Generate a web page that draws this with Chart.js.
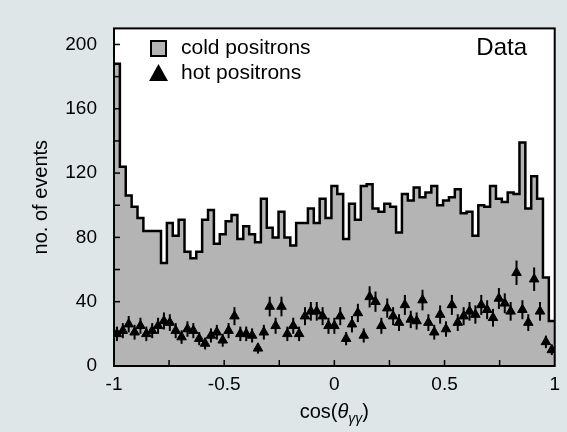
<!DOCTYPE html>
<html>
<head>
<meta charset="utf-8">
<script src="https://cdn.jsdelivr.net/npm/chart.js@4.4.1/dist/chart.umd.min.js"></script>
<style>
  html, body { margin: 0; padding: 0; background: #dee6e8; }
  #wrap { width: 567px; height: 432px; }
</style>
</head>
<body>
<div id="wrap"><canvas id="histChart" width="567" height="432"></canvas></div>
<script>
// cos(theta_gg) histogram, 75 bins from -1 to 1
const coldCounts = [
  188, 124, 106, 99, 92, 84, 84, 84, 64, 89,
  81, 91, 71, 67, 71, 91, 97, 76, 82, 90,
  94, 79, 87, 82, 77, 104, 86, 80, 96, 80,
  75, 89, 89, 98, 89, 104, 92, 112, 107, 79,
  101, 91, 112, 113, 98, 96, 101, 99, 83, 107,
  103, 111, 105, 108, 112, 100, 103, 105, 110, 95,
  96, 81, 100, 99, 112, 104, 102, 108, 107, 139,
  98, 118, 104, 55, 28
];
const hotCounts = [
  20, 22, 26, 21, 25, 20, 22, 25, 28, 27,
  22, 18, 23, 22, 17, 14, 19, 21, 16, 22,
  31, 20, 20, 19, 11, 21, 37, 25, 37, 20,
  25, 20, 31, 34, 34, 31, 25, 25, 31, 17,
  26, 33, 19, 43, 40, 25, 36, 31, 27, 38,
  29, 28, 41, 27, 21, 32, 23, 38, 27, 31,
  34, 32, 38, 35, 30, 42, 39, 34, 58, 35,
  27, 54, 34, 15, 10
];
const hotErrors = [
  4.5, 4.7, 5.1, 4.6, 5.0, 4.5, 4.7, 5.0, 5.3, 5.2,
  4.7, 4.2, 4.8, 4.7, 4.1, 3.7, 4.4, 4.6, 4.0, 4.7,
  5.6, 4.5, 4.5, 4.4, 3.3, 4.6, 6.1, 5.0, 6.1, 4.5,
  5.0, 4.5, 5.6, 5.8, 5.8, 5.6, 5.0, 5.0, 5.6, 4.1,
  5.1, 5.7, 4.4, 6.6, 6.3, 5.0, 6.0, 5.6, 5.2, 6.2,
  5.4, 5.3, 6.4, 5.2, 4.6, 5.7, 4.8, 6.2, 5.2, 5.6,
  5.8, 5.7, 6.2, 5.9, 5.5, 6.5, 6.2, 5.8, 7.6, 5.9,
  5.2, 7.3, 5.8, 3.9, 3.2
];
const xTickLabels = [-1, -0.5, 0, 0.5, 1];
const yTickLabels = [0, 40, 80, 120, 160, 200];
const xTickMarks = [-0.75, -0.5, -0.25, 0, 0.25, 0.5, 0.75];
const yTickMarks = [20, 40, 60, 80, 100, 120, 140, 160, 180, 200];

const xMin = -1, xMax = 1, yMax = 210;
const binWidth = (xMax - xMin) / coldCounts.length;
const fontFamily = "'Liberation Sans', Arial, sans-serif";
const histFill = '#b4b4b4';

// step outline: one point per bin left edge, plus the right end
const coldPoints = coldCounts.map((v, i) => ({ x: xMin + i * binWidth, y: v }));
coldPoints.push({ x: xMax, y: coldCounts[coldCounts.length - 1] });
const hotPoints = hotCounts.map((v, i) => ({ x: xMin + (i + 0.5) * binWidth, y: v }));

const extras = {
  id: 'extras',
  beforeDraw(chart) {
    const { ctx, chartArea: a } = chart;
    ctx.save();
    ctx.fillStyle = '#fff';
    ctx.fillRect(a.left, a.top, a.right - a.left, a.bottom - a.top);
    ctx.restore();
  },
  afterDatasetsDraw(chart) {
    // error bars for hot positrons
    const { ctx, scales: { x, y } } = chart;
    ctx.save();
    ctx.strokeStyle = '#000';
    ctx.lineWidth = 2;
    hotPoints.forEach((p, i) => {
      const px = x.getPixelForValue(p.x);
      ctx.beginPath();
      ctx.moveTo(px, y.getPixelForValue(p.y - hotErrors[i]));
      ctx.lineTo(px, y.getPixelForValue(p.y + hotErrors[i]));
      ctx.stroke();
    });
    ctx.restore();
  },
  afterDraw(chart) {
    const { ctx, chartArea: a, scales: { x, y } } = chart;
    ctx.save();
    // inward tick marks
    ctx.strokeStyle = '#000';
    ctx.lineWidth = 1.5;
    yTickMarks.forEach(v => {
      const py = y.getPixelForValue(v);
      ctx.beginPath(); ctx.moveTo(a.left, py); ctx.lineTo(a.left + 6, py); ctx.stroke();
    });
    xTickMarks.forEach(v => {
      const px = x.getPixelForValue(v);
      ctx.beginPath(); ctx.moveTo(px, a.bottom); ctx.lineTo(px, a.bottom - 6); ctx.stroke();
    });
    // frame
    ctx.lineWidth = 2;
    ctx.strokeRect(a.left, a.top, a.right - a.left, a.bottom - a.top);

    // legend
    ctx.fillStyle = histFill;
    ctx.fillRect(151, 41, 15, 15);
    ctx.lineWidth = 2;
    ctx.strokeRect(151, 41, 15, 15);
    ctx.fillStyle = '#000';
    ctx.beginPath();
    ctx.moveTo(158.5, 64); ctx.lineTo(168, 81); ctx.lineTo(149, 81); ctx.closePath();
    ctx.fill();
    ctx.font = '21px ' + fontFamily;
    ctx.textBaseline = 'middle';
    ctx.textAlign = 'left';
    ctx.fillText('cold positrons', 181, 48);
    ctx.fillText('hot positrons', 181, 73);
    ctx.font = '24px ' + fontFamily;
    ctx.textAlign = 'right';
    ctx.fillText('Data', 527, 48);

    // y title
    ctx.save();
    ctx.translate(41, (a.top + a.bottom) / 2);
    ctx.rotate(-Math.PI / 2);
    ctx.textAlign = 'center';
    ctx.font = '20px ' + fontFamily;
    ctx.fillText('no. of events', 0, 0);
    ctx.restore();

    // x title: cos(θγγ) with italic theta and subscript
    const parts = [
      { t: 'cos(', f: '20px ' + fontFamily, dy: 0 },
      { t: 'θ', f: 'italic 20px ' + fontFamily, dy: 0 },
      { t: 'γγ', f: 'italic 14px ' + fontFamily, dy: 5 },
      { t: ')', f: '20px ' + fontFamily, dy: 0 }
    ];
    let total = 0;
    parts.forEach(p => { ctx.font = p.f; p.w = ctx.measureText(p.t).width; total += p.w; });
    let cx = (a.left + a.right) / 2 - total / 2;
    ctx.textAlign = 'left';
    ctx.textBaseline = 'alphabetic';
    parts.forEach(p => { ctx.font = p.f; ctx.fillText(p.t, cx, 418 + p.dy); cx += p.w; });
    ctx.restore();
  }
};

new Chart(document.getElementById('histChart'), {
  type: 'line',
  data: {
    datasets: [
      {
        label: 'hot positrons',
        data: hotPoints,
        showLine: false,
        pointStyle: 'triangle',
        pointRadius: 5.5,
        pointBackgroundColor: '#000',
        pointBorderColor: '#000',
        pointBorderWidth: 1
      },
      {
        label: 'cold positrons',
        data: coldPoints,
        stepped: true,
        fill: 'origin',
        backgroundColor: histFill,
        borderColor: '#000',
        borderWidth: 2.5,
        pointRadius: 0
      }
    ]
  },
  options: {
    responsive: false,
    devicePixelRatio: 1,
    animation: false,
    layout: { padding: { top: 21, right: 9, left: 0, bottom: 0 } },
    plugins: { legend: { display: false }, tooltip: { enabled: false } },
    scales: {
      x: {
        type: 'linear',
        min: xMin,
        max: xMax,
        afterBuildTicks: s => { s.ticks = xTickLabels.map(v => ({ value: v })); },
        afterFit: s => { s.height = 66; },
        grid: { display: false, drawTicks: false },
        border: { display: false },
        ticks: {
          color: '#000',
          font: { family: fontFamily, size: 19 },
          padding: 7,
          maxRotation: 0,
          autoSkip: false,
          callback: v => String(v)
        }
      },
      y: {
        min: 0,
        max: yMax,
        afterBuildTicks: s => { s.ticks = yTickLabels.map(v => ({ value: v })); },
        afterFit: s => { s.width = 114; },
        grid: { display: false, drawTicks: false },
        border: { display: false },
        ticks: {
          color: '#000',
          font: { family: fontFamily, size: 19 },
          padding: 17
        }
      }
    }
  },
  plugins: [extras]
});
</script>
</body>
</html>
